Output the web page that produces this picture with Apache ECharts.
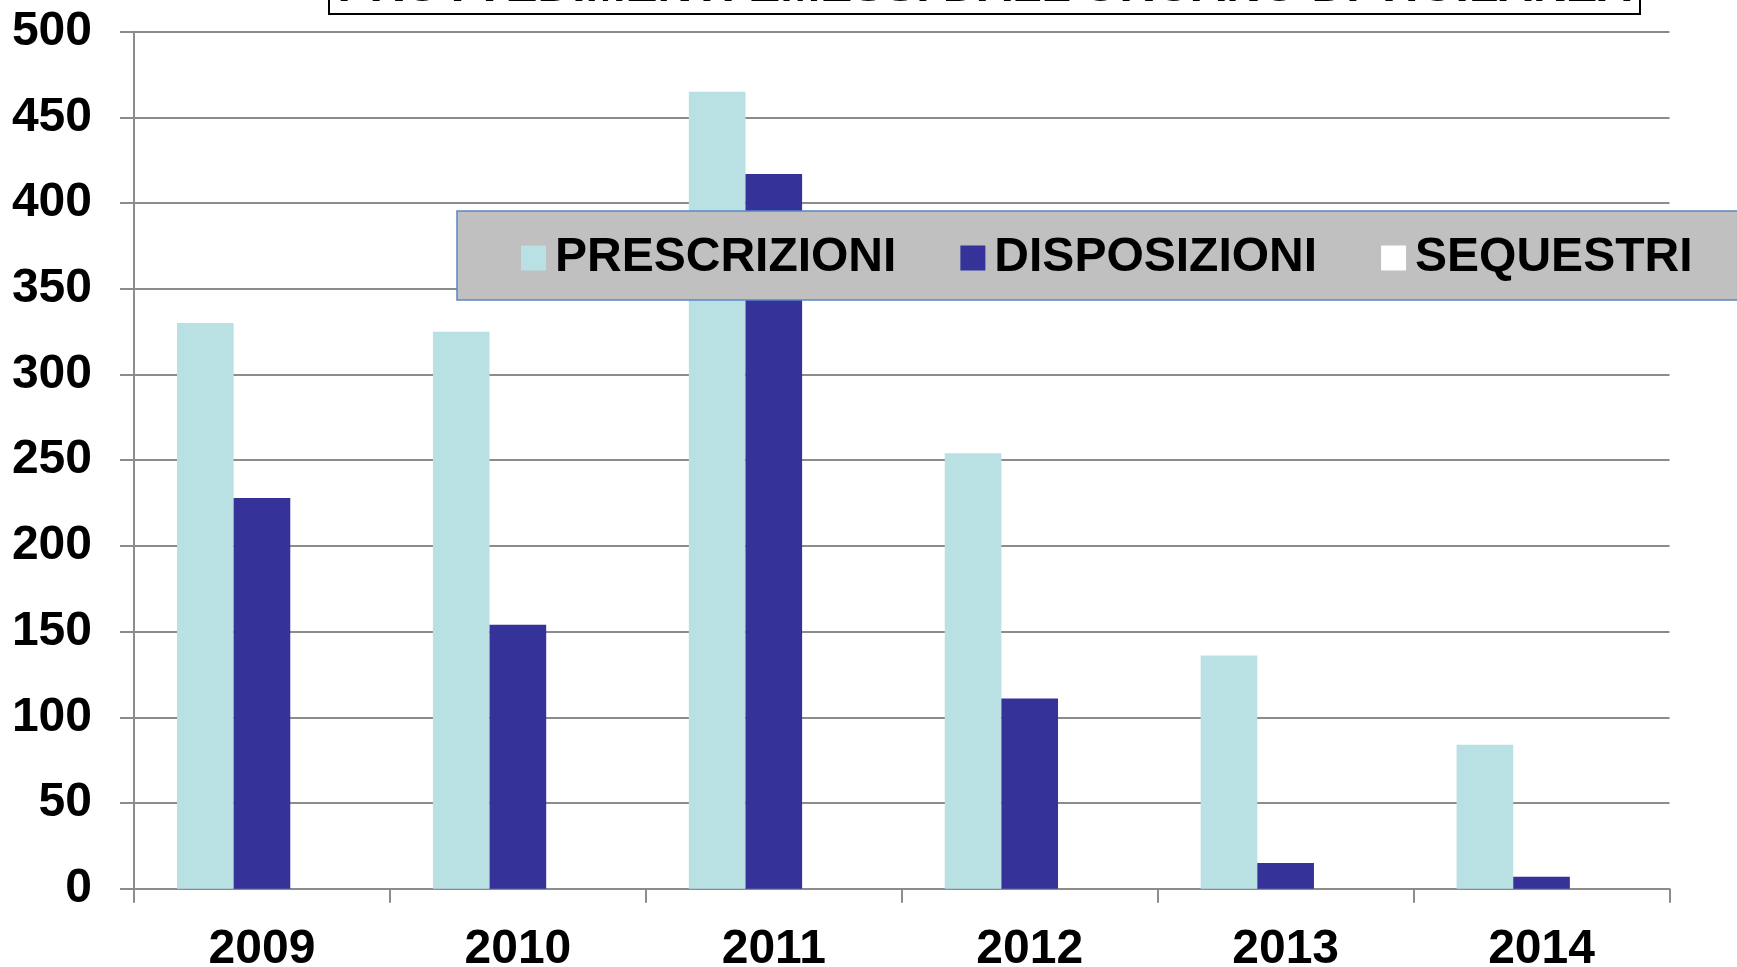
<!DOCTYPE html>
<html>
<head>
<meta charset="utf-8">
<title>Provvedimenti</title>
<script src="https://cdn.jsdelivr.net/npm/echarts@6/dist/echarts.min.js"></script>
<style>
  html, body { margin: 0; padding: 0; background: #fff; }
  #chart { width: 1737px; height: 967px; }
</style>
</head>
<body>
<div id="chart"></div>
<script>
'use strict'

// dati
const anni = ['2009', '2010', '2011', '2012', '2013', '2014']
const prescrizioni = [330, 325, 465, 254, 136, 84]
const disposizioni = [228, 154, 417, 111, 15, 7]
const sequestri = [0, 0, 0, 0, 0, 0]
const titolo = "PROVVEDIMENTI EMESSI DALL'ORGANO DI VIGILANZA"

const FONT = '"Liberation Sans", Arial, sans-serif'
const GRIGIO = '#8c8c8c'

const myChart = echarts.init(document.getElementById('chart'), null, { renderer: 'canvas' })

const option = {
  animation: false,
  backgroundColor: '#fff',
  textStyle: { fontFamily: FONT },
  // riquadro del titolo, tagliato in alto nell'originale
  graphic: [{
    type: 'rect',
    z: 100,
    shape: { x: 329, y: -80, width: 1311, height: 94 },
    style: { fill: '#fff', stroke: '#000', lineWidth: 2 }
  }, {
    type: 'text',
    z: 101,
    x: 984.5,
    y: -12,
    style: {
      text: titolo,
      align: 'center',
      verticalAlign: 'middle',
      fontSize: 48,
      fontWeight: 'bold',
      fontFamily: FONT,
      fill: '#000'
    }
  }],
  legend: {
    left: 457,
    top: 211,
    width: 1300,
    itemWidth: 25,
    itemHeight: 25,
    itemGap: 64,
    icon: 'rect',
    padding: [23, 150, 18, 64],
    backgroundColor: '#c0c0c0',
    borderColor: '#5b86c5',
    borderWidth: 1.5,
    textStyle: { fontSize: 48, fontWeight: 'bold', color: '#000', fontFamily: FONT, lineHeight: 48, padding: [0, 0, 0, 4] },
    data: ['PRESCRIZIONI', 'DISPOSIZIONI', 'SEQUESTRI']
  },
  grid: { left: 134, right: 67.5, top: 31.7, bottom: 78.3, containLabel: false, outerBoundsMode: 'none' },
  xAxis: {
    type: 'category',
    data: anni,
    axisLine: { lineStyle: { color: GRIGIO, width: 2 } },
    axisTick: { show: true, length: 14, lineStyle: { color: GRIGIO, width: 2 } },
    axisLabel: { margin: 37, fontSize: 48, fontWeight: 'bold', color: '#000', fontFamily: FONT }
  },
  yAxis: {
    type: 'value',
    min: 0,
    max: 500,
    interval: 50,
    axisLine: { show: true, lineStyle: { color: GRIGIO, width: 2 } },
    axisTick: { show: true, length: 14, lineStyle: { color: GRIGIO, width: 2 } },
    splitLine: { lineStyle: { color: GRIGIO, width: 2 } },
    axisLabel: { margin: 42, padding: [13, 0, 0, 0], fontSize: 48, fontWeight: 'bold', color: '#000', fontFamily: FONT }
  },
  series: [
    {
      name: 'PRESCRIZIONI',
      type: 'bar',
      data: prescrizioni,
      barGap: '0%',
      barCategoryGap: '33.6%',
      itemStyle: { color: '#b9e0e3' }
    },
    {
      name: 'DISPOSIZIONI',
      type: 'bar',
      data: disposizioni,
      itemStyle: { color: '#353399' }
    },
    {
      name: 'SEQUESTRI',
      type: 'bar',
      data: sequestri,
      itemStyle: { color: '#ffffff' }
    }
  ]
}

option && myChart.setOption(option)
</script>
</body>
</html>
